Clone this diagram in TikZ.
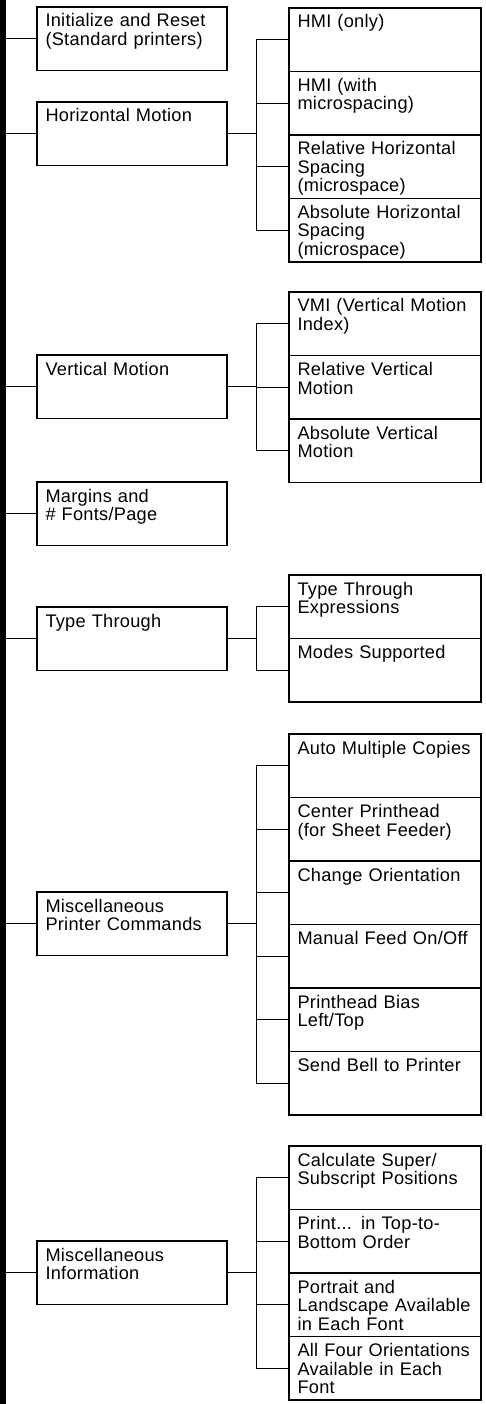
\documentclass[tikz,border=0pt]{standalone}
\usepackage{fontspec}
\setmainfont[LetterSpace=1.5]{Liberation Sans}
\usetikzlibrary{positioning}
\hyphenpenalty=10000

\begin{document}
\begin{tikzpicture}[x=1pt, y=-1pt,
    topic/.style={draw,
        line width=1.7pt,
        outer sep=0pt,
        anchor=north west,
        align=left,
        inner xsep=8.5pt,
        inner ysep=0pt,
        text height=20pt,
        text depth=43.5pt,
        font=\fontsize{18.2}{18.5}\selectfont
    },
    leftbox/.style={topic, text width=173pt},
    rightbox/.style={topic, text width=175pt},
    link/.style={line width=1.4pt}
]

    \useasboundingbox (0,0) rectangle (486,1404);
    \fill (0,0) rectangle (6,1404);
    \coordinate (trunk) at (6,0);
    \coordinate (fork) at (256.5,0);

    \node[leftbox] (init) at (37,7) {Initialize and Reset\\(Standard printers)};
    \node[leftbox] (hmot) at (37,102) {Horizontal Motion};
    \node[leftbox] (vmot) at (37,355) {Vertical Motion};
    \node[leftbox] (marg) at (37,482) {Margins and\\\# Fonts/Page};
    \node[leftbox] (ttr) at (37,607) {Type Through};
    \node[leftbox] (mpc) at (37,892) {Miscellaneous\\Printer Commands};
    \node[leftbox] (minf) at (37,1241) {Miscellaneous\\Information};

    \node[rightbox] (hmi1) at (289,8) {HMI (only)};
    \node[rightbox, below=0pt of hmi1] (hmi2) {HMI (with\\microspacing)};
    \node[rightbox, below=0pt of hmi2] (rhs) {Relative Horizontal\\Spacing\\(microspace)};
    \node[rightbox, below=0pt of rhs] (ahs) {Absolute Horizontal\\Spacing\\(microspace)};

    \node[rightbox] (vmi) at (289,292) {VMI (Vertical Motion\\Index)};
    \node[rightbox, below=0pt of vmi] (rvm) {Relative Vertical\\Motion};
    \node[rightbox, below=0pt of rvm] (avm) {Absolute Vertical\\Motion};

    \node[rightbox] (tte) at (289,575) {Type Through\\Expressions};
    \node[rightbox, below=0pt of tte] (mods) {Modes Supported};

    \node[rightbox] (amc) at (289,734) {Auto Multiple Copies};
    \node[rightbox, below=0pt of amc] (cph) {Center Printhead\\(for Sheet Feeder)};
    \node[rightbox, below=0pt of cph] (cor) {Change Orientation};
    \node[rightbox, below=0pt of cor] (mfd) {Manual Feed On/Off};
    \node[rightbox, below=0pt of mfd] (pbl) {Printhead Bias\\Left/Top};
    \node[rightbox, below=0pt of pbl] (sbl) {Send Bell to Printer};

    \node[rightbox] (css) at (289,1146) {Calculate Super/\\Subscript Positions};
    \node[rightbox, below=0pt of css] (ptb) {Print... in Top-to-\\Bottom Order};
    \node[rightbox, below=0pt of ptb] (pla) {Portrait and\\Landscape Available\\in Each Font};
    \node[rightbox, below=0pt of pla] (afo) {All Four Orientations\\Available in Each\\Font};

    \foreach \b in {init,hmot,vmot,marg,ttr,mpc,minf}
        \draw[link] (\b.west -| trunk) -- (\b.west);

    \foreach \p/\a/\z in {hmot/hmi1/ahs, vmot/vmi/avm, ttr/tte/mods, mpc/amc/sbl, minf/css/afo} {
        \draw[link] (\p.east) -- (\p.east -| fork);
        \draw[link] (\a.west) -- (\a.west -| fork) -- (\z.west -| fork) -- (\z.west);
    }
    \foreach \c in {hmi2,rhs,rvm,cph,cor,mfd,pbl,ptb,pla}
        \draw[link] (\c.west -| fork) -- (\c.west);

\end{tikzpicture}
\end{document}
